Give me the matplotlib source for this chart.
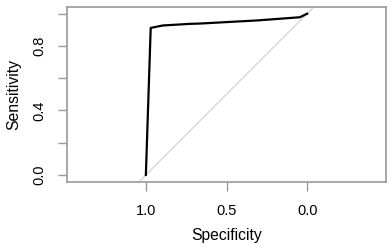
import matplotlib
matplotlib.use("Agg")
import matplotlib.pyplot as plt

specificity = [1.0, 0.97, 0.895, 0.727, 0.665, 0.314, 0.045, 0.0]
sensitivity = [0.0, 0.912, 0.927, 0.937, 0.939, 0.958, 0.978, 1.0]
x_ticks = [1.0, 0.5, 0.0]
x_labels = ["1.0", "0.5", "0.0"]
y_ticks = [0.0, 0.2, 0.4, 0.6, 0.8, 1.0]
y_labels = ["0.0", "", "0.4", "", "0.8", ""]

plt.rcParams['font.family'] = ['Liberation Sans', 'DejaVu Sans']

fig = plt.figure(figsize=(3.92, 2.5), dpi=100)
ax = fig.add_axes([67/392, 1-182/250, (386-67)/392, (182-6.7)/250])

ax.axline((1.0, 0.0), (0.0, 1.0), color="#d3d3d3", lw=0.9, zorder=1)
ax.plot(specificity, sensitivity, color="black", lw=1.6, zorder=2)

ax.set_xlim(1.489, -0.489)
ax.set_ylim(-0.0434, 1.0434)
ax.set_xticks(x_ticks)
ax.set_xticklabels(x_labels)
ax.set_yticks(y_ticks)
ax.set_yticklabels(y_labels, rotation=90, va="center")

for s in ax.spines.values():
    s.set_color("#999999")
    s.set_linewidth(1.2)
ax.tick_params(axis="both", colors="#999999", length=6.8, width=1, labelsize=10.5,
               labelcolor="black")
ax.tick_params(axis="x", pad=9)
ax.tick_params(axis="y", pad=8)

ax.set_xlabel("Specificity", fontsize=11.3, labelpad=7)
ax.set_ylabel("Sensitivity", fontsize=11.3, labelpad=8)

fig.savefig("out.png", dpi=100)
